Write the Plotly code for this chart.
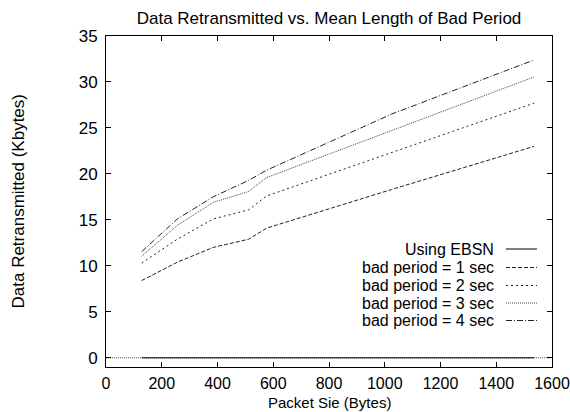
import plotly.graph_objects as go

packet_size = [128, 256, 384, 512, 576, 1024, 1536]
ebsn = [0, 0, 0, 0, 0, 0, 0]
bad1 = [8.4, 10.4, 12.0, 12.9, 14.1, 18.3, 23.0]
bad2 = [10.3, 12.9, 15.1, 16.1, 17.6, 22.3, 27.7]
bad3 = [11.05, 14.4, 16.9, 18.1, 19.6, 24.7, 30.55]
bad4 = [11.55, 15.1, 17.5, 19.3, 20.4, 26.5, 32.4]

series_names = ["Using EBSN", "bad period = 1 sec", "bad period = 2 sec",
                "bad period = 3 sec", "bad period = 4 sec"]
series_vals = [ebsn, bad1, bad2, bad3, bad4]
dashes = ["solid", "4px,2px", "2px,3px", "1px,1px", "6px,2px,1px,2px"]
colors = ["#000000", "#222222", "#222222", "#444444", "#222222"]

FONT = "Liberation Sans, Arial, Helvetica, sans-serif"
FS = 17
LFS = 16

fig = go.Figure()
for name, vals, d, c in zip(series_names, series_vals, dashes, colors):
    fig.add_trace(go.Scatter(x=packet_size, y=vals, mode="lines", name=name,
                             line=dict(color=c, width=1, dash=d), showlegend=False))

# zero axis (dotted) across the full plot
fig.add_shape(type="line", xref="paper", yref="y", x0=0, x1=1, y0=0, y1=0,
              line=dict(color="#555555", width=1, dash="1px,1px"), layer="below")

plot_l, plot_r, plot_t, plot_b = 106, 552, 36, 367
W, H = 570, 412
def px_x(p):
    return (p - plot_l) / (plot_r - plot_l)
def px_y(p):
    return (plot_b - p) / (plot_b - plot_t)

# custom legend (text on the left, line sample on the right)
row_y = [249, 267.5, 285.5, 303, 320.5]
for name, d, c, yy in zip(series_names, dashes, colors, row_y):
    fig.add_annotation(x=px_x(495), y=px_y(yy), xref="paper", yref="paper",
                       text=name, showarrow=False, xanchor="right", yanchor="middle",
                       borderpad=0, font=dict(family=FONT, size=LFS, color="#000"))
    fig.add_shape(type="line", xref="paper", yref="paper",
                  x0=px_x(506), x1=px_x(537), y0=px_y(yy), y1=px_y(yy),
                  line=dict(color=c, width=1, dash=d))

# axis titles
fig.add_annotation(x=0.5, y=px_y(412), xref="paper", yref="paper",
                   text="Packet Sie (Bytes)", showarrow=False, xanchor="center",
                   yanchor="bottom", borderpad=0,
                   font=dict(family=FONT, size=15, color="#000"))
fig.add_annotation(x=px_x(18), y=0.5, xref="paper", yref="paper",
                   text="Data Retransmitted (Kbytes)", showarrow=False, textangle=-90,
                   xanchor="center", yanchor="middle", borderpad=0,
                   font=dict(family=FONT, size=FS, color="#000"))

axis_common = dict(showline=True, linecolor="#000", linewidth=1, mirror="ticks",
                   ticks="inside", ticklen=5, tickcolor="#000", showgrid=False,
                   zeroline=False, automargin=False, ticklabeloverflow="allow")

fig.update_layout(
    width=W, height=H,
    margin=dict(l=plot_l, r=W - plot_r, t=plot_t, b=H - plot_b),
    paper_bgcolor="white", plot_bgcolor="white",
    title=dict(text="Data Retransmitted vs. Mean Length of Bad Period",
               x=(plot_l + plot_r) / 2 / W, xanchor="center", y=1 - 18 / H, yanchor="middle",
               font=dict(family=FONT, size=FS, color="#000")),
    xaxis=dict(range=[0, 1600], tickmode="linear", tick0=0, dtick=200,
               ticklabelstandoff=2, tickfont=dict(family=FONT, size=16, color="#000"),
               **axis_common),
    yaxis=dict(range=[-1, 35], tickmode="linear", tick0=0, dtick=5,
               ticklabelstandoff=4, tickfont=dict(family=FONT, size=FS, color="#000"),
               **axis_common),
)

fig.write_html("out.html")
